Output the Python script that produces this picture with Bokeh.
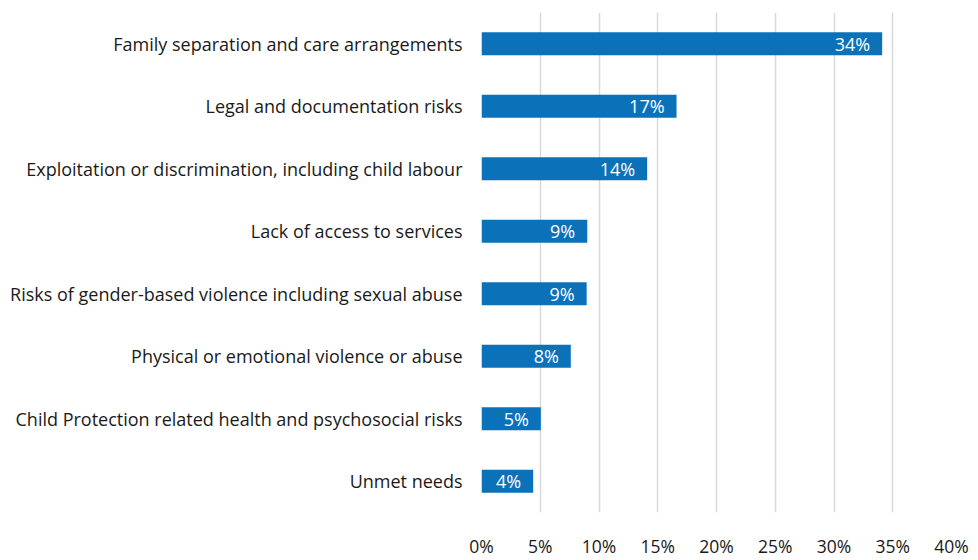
from bokeh.plotting import figure
from bokeh.models import ColumnDataSource, FixedTicker, FactorRange, Range1d
from bokeh.core.properties import value
from bokeh.embed import file_html
from bokeh.resources import INLINE

categories = [
    "Family separation and care arrangements",
    "Legal and documentation risks",
    "Exploitation or discrimination, including child labour",
    "Lack of access to services",
    "Risks of gender-based violence including sexual abuse",
    "Physical or emotional violence or abuse",
    "Child Protection related health and psychosocial risks",
    "Unmet needs",
]
values = [34.1, 16.6, 14.1, 9.0, 8.95, 7.6, 5.05, 4.4]
value_labels = ["34%", "17%", "14%", "9%", "9%", "8%", "5%", "4%"]
tick_values = [0, 5, 10, 15, 20, 25, 30, 35, 40]
tick_labels = ["0%", "5%", "10%", "15%", "20%", "25%", "30%", "35%", "40%"]

FONT = "Open Sans"
src = ColumnDataSource(dict(cat=categories, val=values, lab=value_labels))

p = figure(
    width=970, height=560,
    y_range=FactorRange(*categories[::-1], range_padding=0),
    x_range=Range1d(0, 40),
    output_backend="svg", toolbar_location=None,
    min_border_left=481, min_border_right=19, min_border_top=12, min_border_bottom=32,
)
p.outline_line_color = None
p.background_fill_color = "white"
p.border_fill_color = "white"

p.hbar(y="cat", right="val", left=0, height=0.37, source=src,
       fill_color="#0B72BA", line_color=None)
p.text(x="val", y="cat", text="lab", source=src, x_offset=-12,
       text_align="right", text_baseline="middle", text_color="white",
       text_font=value(FONT), text_font_size="18px")

p.ygrid.grid_line_color = None
p.xgrid.grid_line_color = "#d9d9d9"
p.xgrid.grid_line_width = 1.5
p.xaxis.ticker = FixedTicker(ticks=tick_values)
p.xaxis.major_label_overrides = {t: l for t, l in zip(tick_values, tick_labels)}
for ax in (p.xaxis[0], p.yaxis[0]):
    ax.axis_line_color = None
    ax.major_tick_line_color = None
    ax.minor_tick_line_color = None
    ax.major_label_text_font = FONT
    ax.major_label_text_color = "#1a1a1a"
p.xaxis.major_label_text_font_size = "17.5px"
p.xaxis.major_label_standoff = 15
p.yaxis.major_label_text_font_size = "18px"
p.yaxis.major_label_standoff = 13

open("out.html", "w").write(file_html(p, INLINE))
